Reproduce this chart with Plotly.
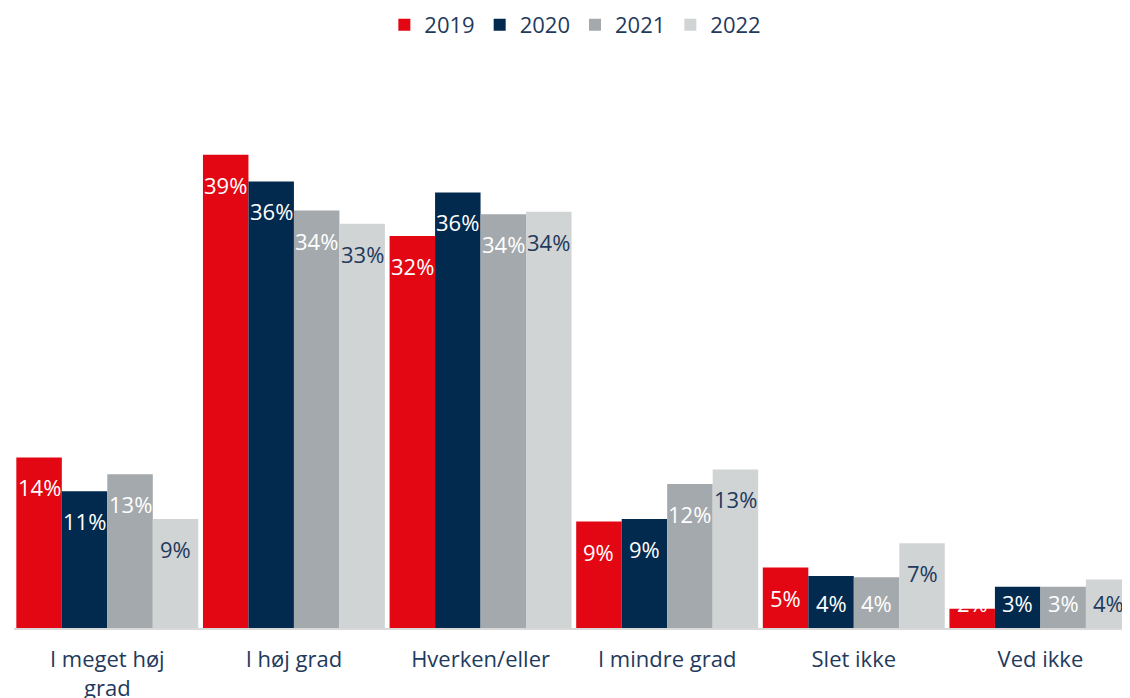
import plotly.graph_objects as go

categories = ["I meget høj<br>grad", "I høj grad", "Hverken/eller", "I mindre grad", "Slet ikke", "Ved ikke"]
years = ["2019", "2020", "2021", "2022"]

v2019 = [14.1, 39.1, 32.4, 8.8, 5.0, 1.6]
v2020 = [11.3, 36.9, 36.0, 9.0, 4.3, 3.4]
v2021 = [12.7, 34.5, 34.2, 11.9, 4.2, 3.4]
v2022 = [9.0, 33.4, 34.4, 13.1, 7.0, 4.0]

l2019 = ["14%", "39%", "32%", "9%", "5%", "2%"]
l2020 = ["11%", "36%", "36%", "9%", "4%", "3%"]
l2021 = ["13%", "34%", "34%", "12%", "4%", "3%"]
l2022 = ["9%", "33%", "34%", "13%", "7%", "4%"]

values = [v2019, v2020, v2021, v2022]
labels = [l2019, l2020, l2021, l2022]
colors = ["#E30613", "#022A4E", "#A3A9AC", "#D1D4D5"]
label_colors = ["#FFFFFF", "#FFFFFF", "#FFFFFF", "#1F3A5C"]
navy_text = "#1F3A5C"
FONT = "Open Sans"

# page body has an 8px default margin; size the figure to fit the window
W, H = 1122, 690
M_L, M_R, M_T, M_B = 6, 0, 52, 70
Y_MAX = 46.94
plot_h = H - M_T - M_B
ppu = plot_h / Y_MAX

group = 0.975
bw = group / 4

fig = go.Figure()
annotations = []
for i, (yr, vals, labs) in enumerate(zip(years, values, labels)):
    off = -group / 2 + i * bw
    fig.add_trace(go.Bar(
        x=list(range(len(categories))), y=vals, name=yr,
        offset=off, width=bw,
        marker=dict(color=colors[i], line=dict(width=0)),
        hoverinfo="skip",
    ))
    for j, (v, lab) in enumerate(zip(vals, labs)):
        ypos = max(v - 30 / ppu, 25 / ppu)
        annotations.append(dict(
            x=j + off + bw / 2, y=ypos, xref="x", yref="y",
            text=lab, showarrow=False, yanchor="middle", xanchor="center",
            font=dict(family=FONT, size=22, color=label_colors[i]),
        ))

fig.update_layout(
    width=W, height=H,
    barmode="overlay",
    paper_bgcolor="white", plot_bgcolor="white",
    margin=dict(l=M_L, r=M_R, t=M_T, b=M_B, autoexpand=False),
    font=dict(family=FONT, color=navy_text, size=22),
    showlegend=True,
    legend=dict(orientation="h", x=0.503, xanchor="center", yref="container",
                y=1 - 17 / H, yanchor="middle", font=dict(size=22, color=navy_text),
                itemwidth=30, traceorder="normal", entrywidth=0),
    annotations=annotations,
    xaxis=dict(
        tickmode="array", tickvals=list(range(len(categories))), ticktext=categories,
        range=[-0.5, 5.48], showgrid=False, zeroline=False, automargin=False,
        showline=True, linecolor="#D9D9D9", linewidth=1.5,
        ticks="outside", ticklen=11, tickcolor="rgba(0,0,0,0)",
        tickfont=dict(family=FONT, size=22, color=navy_text),
    ),
    yaxis=dict(range=[0, Y_MAX], visible=False, showgrid=False, zeroline=False,
               automargin=False),
)

fig.write_html("out.html")
